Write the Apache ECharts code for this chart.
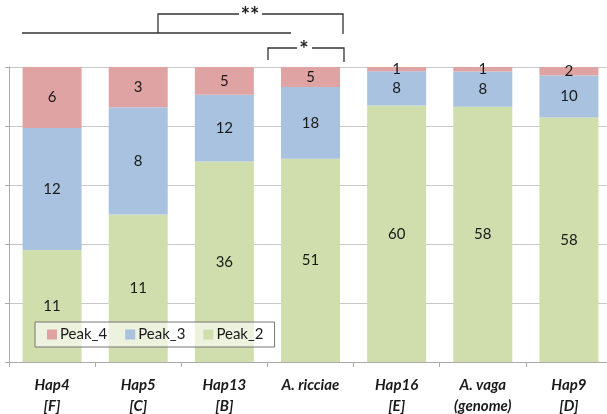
<!DOCTYPE html>
<html>
<head>
<meta charset="utf-8">
<script src="https://cdn.jsdelivr.net/npm/echarts@6/dist/echarts.min.js"></script>
<style>
  html, body { margin: 0; padding: 0; background: #fff; }
  #chart { width: 607px; height: 414px; }
</style>
</head>
<body>
<div id="chart"></div>
<script>
// Category labels (two lines each)
const categories = [
  '{i|Hap4}\n{i|[F]}',
  '{i|Hap5}\n{i|[C]}',
  '{i|Hap13}\n{i|[B]}',
  '{i|A. ricciae}',
  '{i|Hap16}\n{i|[E]}',
  '{i|A. vaga}\n{i|(genome)}',
  '{i|Hap9}\n{i|[D]}'
];

// Counts per peak class
const peak2 = [11, 11, 36, 51, 60, 58, 58];
const peak3 = [12, 8, 12, 18, 8, 8, 10];
const peak4 = [6, 3, 5, 5, 1, 1, 2];

const yTicks = [0, 0.2, 0.4, 0.6, 0.8, 1];

const totals = peak2.map((v, i) => v + peak3[i] + peak4[i]);
const share = arr => arr.map((v, i) => ({ value: v / totals[i], count: v }));

const FONT = 'Lato, "Open Sans", sans-serif';

const labelCfg = {
  show: true,
  position: 'inside',
  color: '#1a1a1a',
  fontSize: 15,
  fontFamily: FONT,
  formatter: p => p.data.count
};

function series(name, arr, color) {
  return {
    name: name,
    type: 'bar',
    stack: 'all',
    barWidth: 59,
    data: share(arr),
    itemStyle: { color: color },
    label: labelCfg,
    emphasis: { disabled: true }
  };
}

const chart = echarts.init(document.getElementById('chart'), null, { renderer: 'canvas' });

const lineStyle = { stroke: '#333', lineWidth: 1.3, fill: null };

chart.setOption({
  animation: false,
  grid: { left: 9, right: -5, top: 67, bottom: 52, outerBoundsMode: 'none', containLabel: false },
  legend: {
    data: ['Peak_4', 'Peak_3', 'Peak_2'],
    left: 35,
    top: 322,
    itemWidth: 10,
    itemHeight: 10,
    itemGap: 18,
    padding: [5, 11, 5, 12],
    borderColor: '#777',
    borderWidth: 1,
    backgroundColor: 'rgba(255,255,255,0.6)',
    icon: 'rect',
    textStyle: { fontSize: 15, fontFamily: FONT, color: '#1a1a1a', padding: [0, 0, 0, -2] }
  },
  xAxis: {
    type: 'category',
    data: categories,
    axisLine: { lineStyle: { color: '#aaa' } },
    axisTick: { show: true, length: 5, lineStyle: { color: '#aaa' } },
    axisLabel: {
      margin: 13,
      interval: 0,
      lineHeight: 21,
      rich: {
        i: {
          fontSize: 15,
          fontWeight: 'bold',
          fontStyle: 'italic',
          fontFamily: FONT,
          color: '#1a1a1a',
          lineHeight: 21
        }
      }
    }
  },
  yAxis: {
    type: 'value',
    min: yTicks[0],
    max: yTicks[yTicks.length - 1],
    interval: 0.2,
    axisLine: { show: true, lineStyle: { color: '#aaa' } },
    axisTick: { show: true, length: 4, lineStyle: { color: '#aaa' } },
    axisLabel: { show: false },
    splitLine: { show: true, lineStyle: { color: '#c8c8c8' } }
  },
  series: [
    series('Peak_2', peak2, '#cfdeac'),
    series('Peak_3', peak3, '#a9c2e0'),
    series('Peak_4', peak4, '#e0a3a3')
  ],
  graphic: [
    // group line and bracket (**)
    { type: 'polyline', shape: { points: [[22, 33], [291, 33]] }, style: lineStyle },
    { type: 'polyline', shape: { points: [[158, 33], [158, 14], [239, 14]] }, style: lineStyle },
    { type: 'polyline', shape: { points: [[262, 14], [343, 14], [343, 34]] }, style: lineStyle },
    { type: 'text', x: 250, y: 16, style: { text: '**', font: 'bold 22px ' + FONT, fill: '#222', align: 'center', verticalAlign: 'middle' } },
    // bracket (*)
    { type: 'polyline', shape: { points: [[268, 60], [268, 48], [297, 48]] }, style: lineStyle },
    { type: 'polyline', shape: { points: [[312, 48], [344, 48], [344, 62]] }, style: lineStyle },
    { type: 'text', x: 304, y: 50, style: { text: '*', font: 'bold 22px ' + FONT, fill: '#222', align: 'center', verticalAlign: 'middle' } }
  ]
});
</script>
</body>
</html>
